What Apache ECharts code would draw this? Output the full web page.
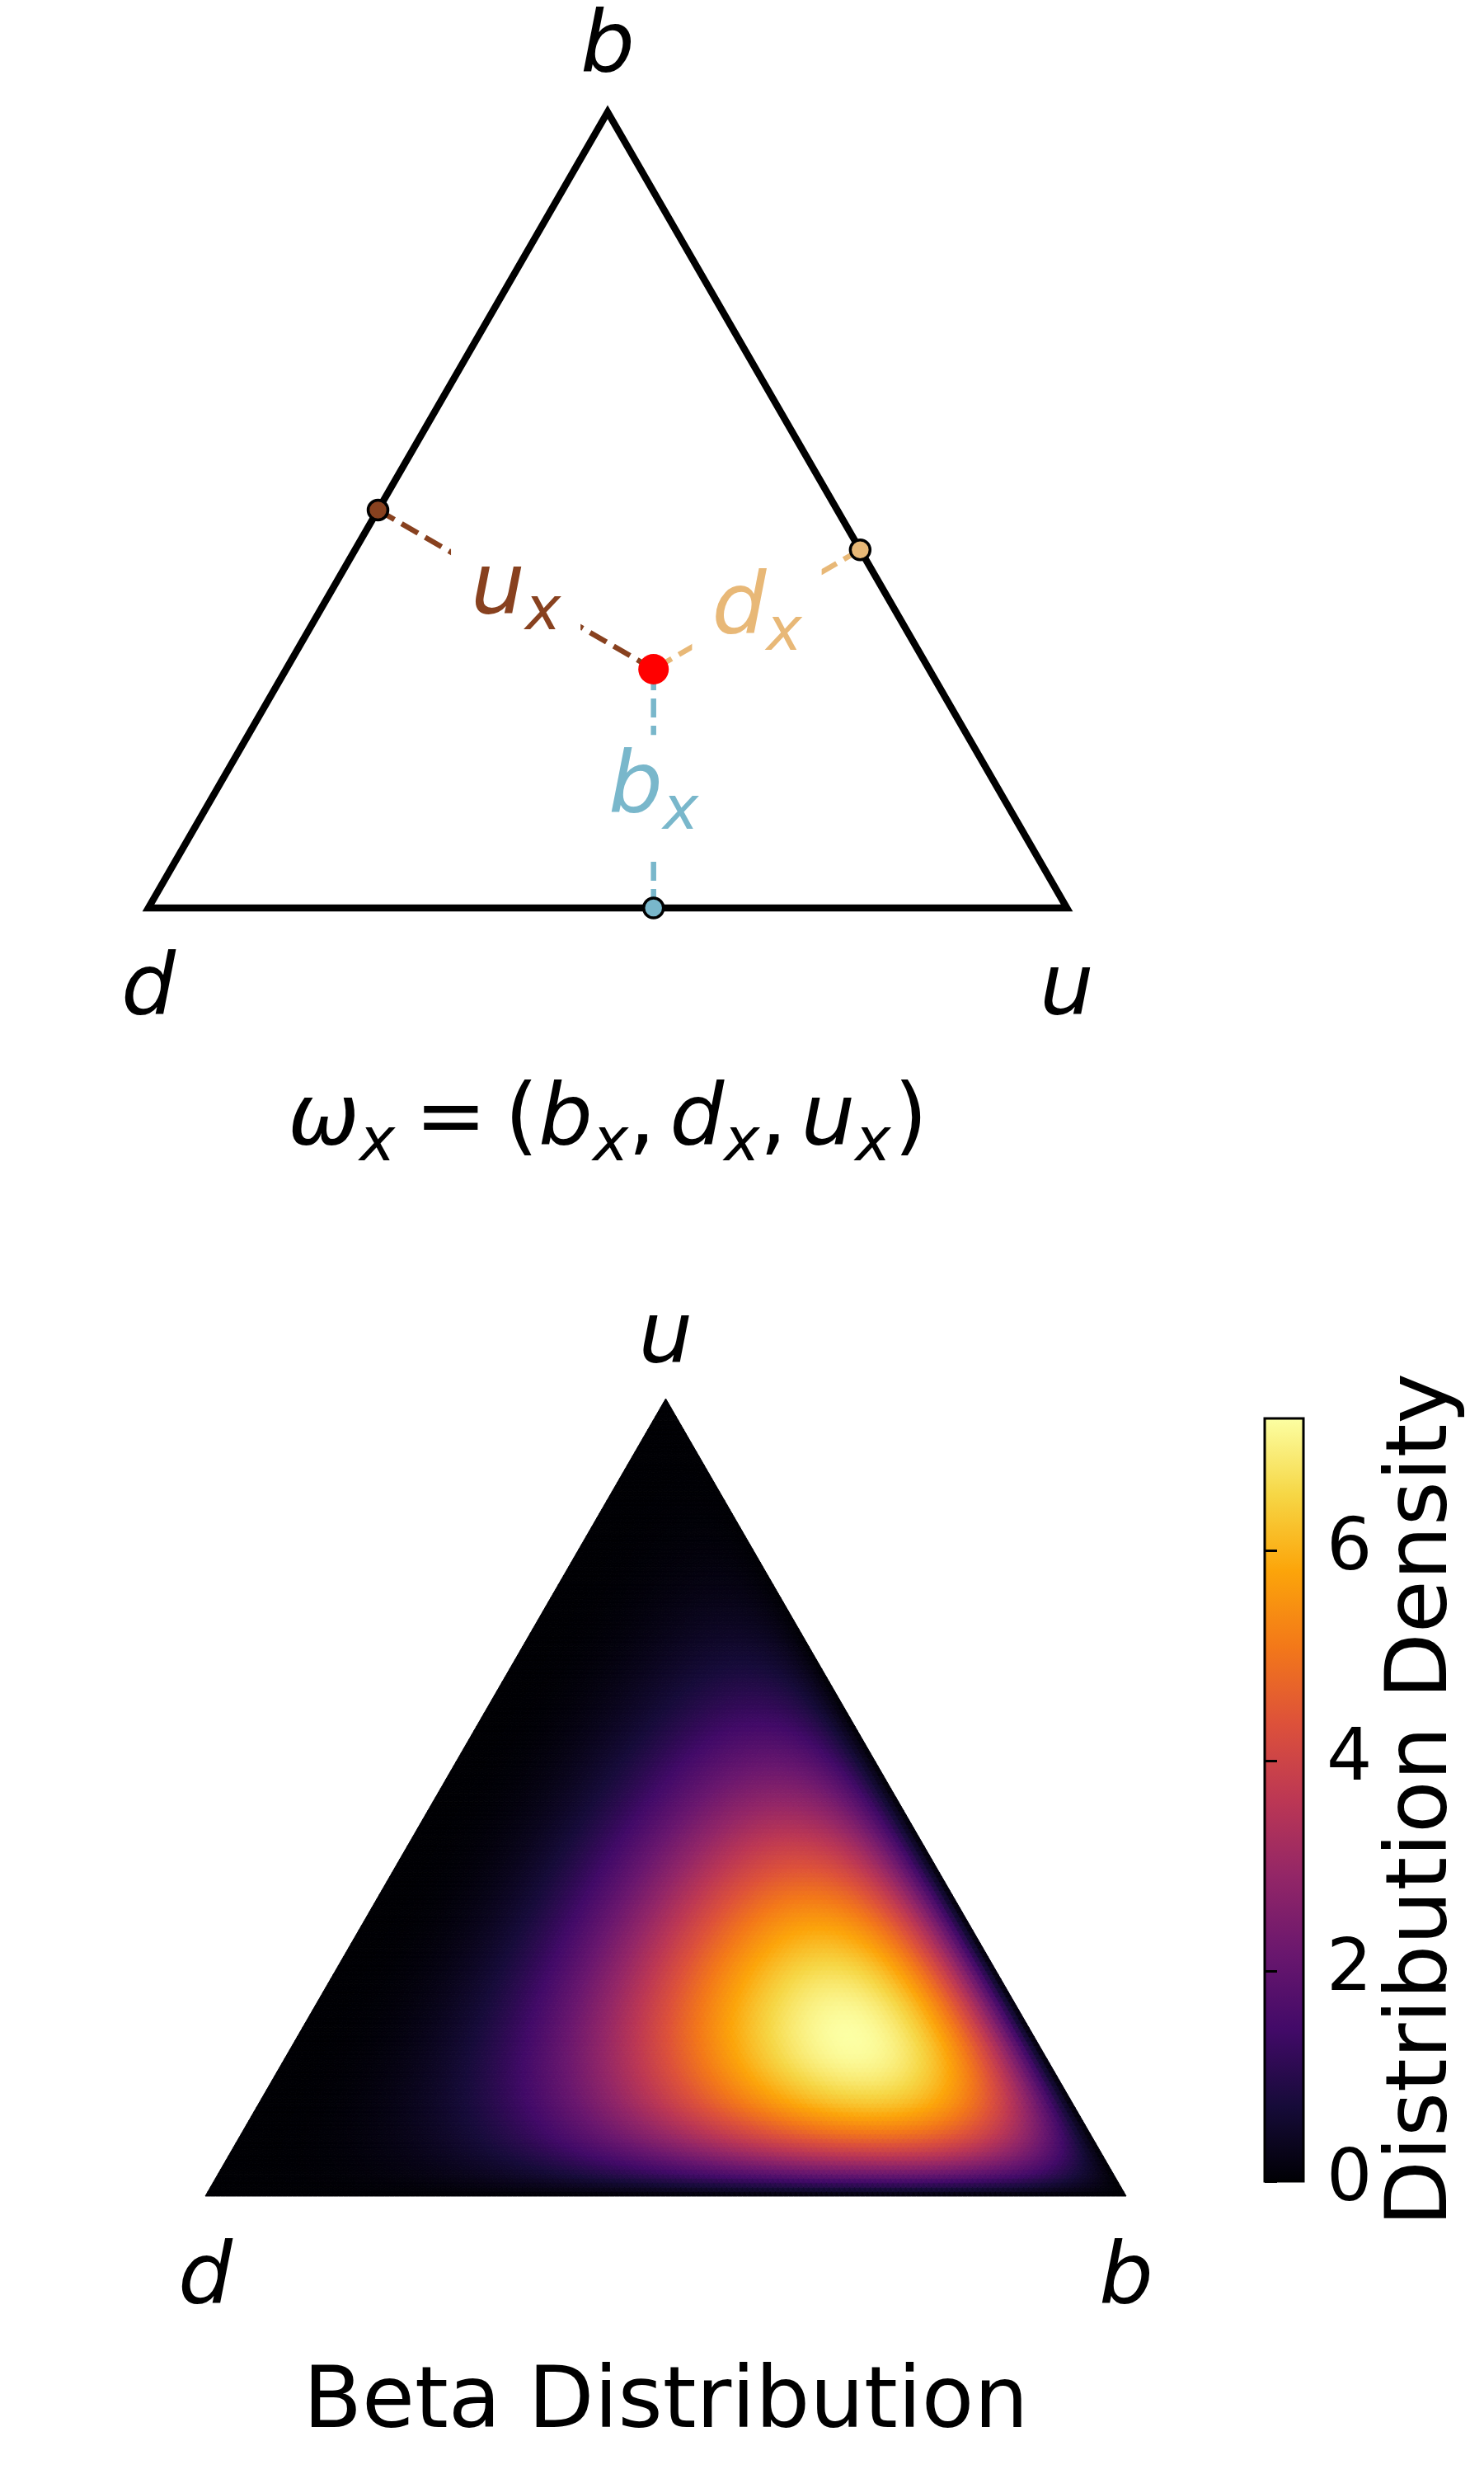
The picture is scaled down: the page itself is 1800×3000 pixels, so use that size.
<!DOCTYPE html>
<html>
<head>
<meta charset="utf-8">
<script src="https://cdn.jsdelivr.net/npm/echarts@6/dist/echarts.min.js"></script>
<style>
html, body { margin: 0; padding: 0; background: #ffffff; }
#chart { width: 1800px; height: 3000px; }
</style>
</head>
<body>
<div id="chart"></div>
<script>
// ---------------- data ----------------
// opinion omega_x = (b_x, d_x, u_x) shown in the top triangle
const opinionComponents = ['b', 'd', 'u'];
const opinionValues = [0.3, 0.3, 0.4];
const opinionColors = ['#79b7cb', '#e8b877', '#88411f'];
const topVertexLabels = ['d', 'u', 'b'];      // bottom-left, bottom-right, apex
// density in the lower triangle: Dirichlet parameters per component
const alphaComponents = ['b', 'd', 'u'];
const alphaValues = [4, 2, 2];
const betaVertexLabels = ['d', 'b', 'u'];     // bottom-left, bottom-right, apex
// colour bar
const colorbarTicks = [0, 2, 4, 6];
const colorbarMax = 7.26;
const infernoStops = ['#000004', '#160b39', '#420a68', '#6a176e', '#932667',
                      '#bc3754', '#dd513a', '#f37819', '#fca50a', '#f6d746', '#fcffa4'];
// text
const formulaText = '{m|ω}{s|x}{e|=}{o|(}{m|b}{s|x}{c|,}{m|d}{s|x}{c|,}{m|u}{s|x}{p|)}';
const betaTitle = 'Beta Distribution';
const colorbarTitle = 'Distribution Density';

// ---------------- geometry helpers ----------------
const FONT = "'DejaVu Sans', 'Liberation Sans', sans-serif";
const H = Math.sqrt(3) / 2;
const corners = [[0, 0], [1, 0], [0.5, H]];   // bottom-left, bottom-right, apex
const MESH_N = 180;

const ov = {};
opinionComponents.forEach((c, k) => { ov[c] = opinionValues[k]; });
// top triangle: d bottom-left, u bottom-right, b apex
const P = [ov.u + ov.b / 2, ov.b * H];
const tU = P[0] * 0.5 + P[1] * H;
const tD = (P[0] - 1) * (-0.5) + P[1] * H;
const feet = {
  b: [P[0], 0],
  u: [0.5 * tU, H * tU],
  d: [1 - 0.5 * tD, H * tD]
};

// Dirichlet density
function lnGamma(z) {
  const g = 7;
  const c = [0.99999999999980993, 676.5203681218851, -1259.1392167224028,
    771.32342877765313, -176.61502916214059, 12.507343278686905,
    -0.13857109526572012, 9.9843695780195716e-6, 1.5056327351493116e-7];
  if (z < 0.5) return Math.log(Math.PI / Math.sin(Math.PI * z)) - lnGamma(1 - z);
  z -= 1;
  let x = c[0];
  for (let i = 1; i < g + 2; i++) x += c[i] / (z + i);
  const t = z + g + 0.5;
  return 0.5 * Math.log(2 * Math.PI) + (z + 0.5) * Math.log(t) - t + Math.log(x);
}
const alpha = {};
alphaComponents.forEach((c, k) => { alpha[c] = alphaValues[k]; });
const alphaSum = alphaValues.reduce((a, b) => a + b, 0);
const lnNorm = lnGamma(alphaSum) - alphaValues.reduce((s, a) => s + lnGamma(a), 0);
function density(p) {
  let s = lnNorm;
  for (const c of alphaComponents) {
    if (p[c] <= 0) return 0;
    s += (alpha[c] - 1) * Math.log(p[c]);
  }
  return Math.exp(s);
}

// mesh over the lower triangle (d bottom-left, b bottom-right, u apex)
const meshData = [];
for (let i = 0; i < MESH_N; i++) {
  for (let j = 0; i + j < MESH_N; j++) {
    let b = (3 * i + 1) / (3 * MESH_N), u = (3 * j + 1) / (3 * MESH_N);
    meshData.push([b + u / 2, u * H, density({ b: b, u: u, d: 1 - b - u }), i, j, 1]);
    if (i + j <= MESH_N - 2) {
      b = (3 * i + 2) / (3 * MESH_N); u = (3 * j + 2) / (3 * MESH_N);
      meshData.push([b + u / 2, u * H, density({ b: b, u: u, d: 1 - b - u }), i, j, 0]);
    }
  }
}

// ---------------- options ----------------
const MS = 104, SS = 73, PB = 12;
const mathRich = {
  m: { fontFamily: FONT, fontStyle: 'italic', fontSize: MS, color: '#000', verticalAlign: 'bottom', padding: [0, 0, PB, 0] },
  s: { fontFamily: FONT, fontStyle: 'italic', fontSize: SS, color: '#000', verticalAlign: 'bottom' },
  e: { fontFamily: FONT, fontSize: MS, color: '#000', verticalAlign: 'bottom', padding: [0, 22, PB, 24] },
  o: { fontFamily: FONT, fontSize: MS, color: '#000', verticalAlign: 'bottom', padding: [0, 0, PB, 0] },
  c: { fontFamily: FONT, fontSize: MS, color: '#000', verticalAlign: 'bottom', padding: [0, 17, PB, 0] },
  p: { fontFamily: FONT, fontSize: MS, color: '#000', verticalAlign: 'bottom', padding: [0, 0, PB, 4] }
};
const labelRich = {};
opinionComponents.forEach((c, k) => {
  labelRich['m' + k] = Object.assign({}, mathRich.m, { color: opinionColors[k] });
  labelRich['s' + k] = Object.assign({}, mathRich.s, { color: opinionColors[k] });
});

const hiddenAxis = {
  show: true,
  axisLine: { show: false }, axisTick: { show: false },
  axisLabel: { show: false }, splitLine: { show: false }
};
const clear = { color: 'rgba(0,0,0,0)', opacity: 1 };

const series = [];
// 0: top triangle outline
series.push({
  type: 'custom', xAxisIndex: 0, yAxisIndex: 0, z: 1, silent: true,
  data: [[0.5, H / 3]],
  renderItem: function (params, api) {
    const pts = corners.map(c => api.coord(c));
    return {
      type: 'polygon', shape: { points: pts },
      style: { fill: 'none', stroke: '#000', lineWidth: 8.5, lineJoin: 'miter', miterLimit: 10 }
    };
  }
});
// dashed connectors
opinionComponents.forEach((c, k) => {
  series.push({
    type: 'line', xAxisIndex: 0, yAxisIndex: 0, z: 2, silent: true,
    data: [feet[c], P], symbol: 'none',
    lineStyle: { color: opinionColors[k], width: 6.5, type: [23, 10], cap: 'butt', opacity: 1 }
  });
});
// labels b_x, d_x, u_x on white boxes
series.push({
  type: 'scatter', xAxisIndex: 0, yAxisIndex: 0, z: 3, silent: true,
  symbolSize: 1, itemStyle: clear,
  label: {
    show: true, position: 'inside', backgroundColor: '#ffffff', padding: [15, 24],
    offset: [0, 8], opacity: 1, rich: labelRich
  },
  data: opinionComponents.map((c, k) => ({
    value: [(P[0] + feet[c][0]) / 2, (P[1] + feet[c][1]) / 2],
    label: { formatter: '{m' + k + '|' + c + '}{s' + k + '|x}' }
  }))
});
// points on the edges
series.push({
  type: 'scatter', xAxisIndex: 0, yAxisIndex: 0, z: 4, silent: true,
  symbolSize: 24,
  data: opinionComponents.map((c, k) => ({
    value: feet[c],
    itemStyle: { color: opinionColors[k], borderColor: '#000', borderWidth: 3.5, opacity: 1 }
  }))
});
// opinion point
series.push({
  type: 'scatter', xAxisIndex: 0, yAxisIndex: 0, z: 5, silent: true,
  symbolSize: 37, itemStyle: { color: '#ff0000', opacity: 1 },
  data: [P]
});
// top vertex labels
series.push({
  type: 'scatter', xAxisIndex: 0, yAxisIndex: 0, z: 3, silent: true,
  symbolSize: 1, itemStyle: clear,
  label: { show: true, position: 'inside', fontFamily: FONT, fontStyle: 'italic', fontSize: MS, color: '#000', opacity: 1 },
  data: topVertexLabels.map((t, k) => ({
    value: corners[k],
    label: { formatter: t, offset: [0, k === 2 ? -76 : 102] }
  }))
});
// lower triangle density mesh
const heatIndex = series.length;
series.push({
  type: 'custom', xAxisIndex: 1, yAxisIndex: 1, z: 1, silent: true,
  progressive: 0, progressiveThreshold: 1e7,
  encode: { x: 0, y: 1 },
  data: meshData,
  renderItem: function (params, api) {
    const i = api.value(3), j = api.value(4), up = api.value(5);
    const ij = up ? [[i, j], [i + 1, j], [i, j + 1]] : [[i + 1, j], [i + 1, j + 1], [i, j + 1]];
    const pts = ij.map(function (q) {
      const b = q[0] / MESH_N, u = q[1] / MESH_N;
      return api.coord([b + u / 2, u * H]);
    });
    const col = api.visual('color');
    return { type: 'polygon', shape: { points: pts }, style: { fill: col, stroke: col, lineWidth: 1 } };
  }
});
// lower vertex labels
series.push({
  type: 'scatter', xAxisIndex: 1, yAxisIndex: 1, z: 3, silent: true,
  symbolSize: 1, itemStyle: clear,
  label: { show: true, position: 'inside', fontFamily: FONT, fontStyle: 'italic', fontSize: MS, color: '#000', opacity: 1 },
  data: betaVertexLabels.map((t, k) => ({
    value: corners[k],
    label: { formatter: t, offset: [0, k === 2 ? -71 : 103] }
  }))
});

const option = {
  backgroundColor: '#ffffff',
  animation: false,
  grid: [
    { left: 180, top: 136, width: 1114, height: 965, show: false, outerBoundsMode: 'none' },
    { left: 249, top: 1696, width: 1117, height: 967, show: false, outerBoundsMode: 'none' },
    {
      left: 1534, top: 1720, width: 47, height: 925, show: true, outerBoundsMode: 'none',
      borderColor: '#000', borderWidth: 3,
      backgroundColor: {
        type: 'linear', x: 0, y: 1, x2: 0, y2: 0,
        colorStops: infernoStops.map((c, k) => ({ offset: k / (infernoStops.length - 1), color: c }))
      }
    }
  ],
  xAxis: [
    Object.assign({}, hiddenAxis, {
      gridIndex: 0, type: 'value', min: 0, max: 1,
      name: formulaText, nameLocation: 'middle', nameGap: 208, nameMoveOverlap: false,
      nameTextStyle: { rich: mathRich }
    }),
    Object.assign({}, hiddenAxis, {
      gridIndex: 1, type: 'value', min: 0, max: 1,
      name: betaTitle, nameLocation: 'middle', nameGap: 201, nameMoveOverlap: false,
      nameTextStyle: { fontFamily: FONT, fontSize: 104, color: '#000' }
    }),
    { gridIndex: 2, type: 'value', min: 0, max: 1, show: false }
  ],
  yAxis: [
    Object.assign({}, hiddenAxis, { gridIndex: 0, type: 'value', min: 0, max: H, show: false }),
    Object.assign({}, hiddenAxis, { gridIndex: 1, type: 'value', min: 0, max: H, show: false }),
    {
      gridIndex: 2, type: 'value', position: 'right', min: 0, max: colorbarMax,
      axisLine: { show: false }, splitLine: { show: false },
      axisTick: { show: true, length: 15, lineStyle: { color: '#000', width: 3 }, customValues: colorbarTicks },
      axisLabel: { show: true, margin: 28, fontFamily: FONT, fontSize: 87, color: '#000', customValues: colorbarTicks },
      name: colorbarTitle, nameLocation: 'middle', nameRotate: 90, nameGap: 94, nameMoveOverlap: false,
      nameTextStyle: { fontFamily: FONT, fontSize: 104, color: '#000' }
    }
  ],
  visualMap: [{
    type: 'continuous', show: false, min: 0, max: colorbarMax, dimension: 2,
    seriesIndex: heatIndex, inRange: { color: infernoStops }
  }],
  series: series
};

const chart = echarts.init(document.getElementById('chart'), null, { renderer: 'canvas' });
chart.setOption(option);
</script>
</body>
</html>
